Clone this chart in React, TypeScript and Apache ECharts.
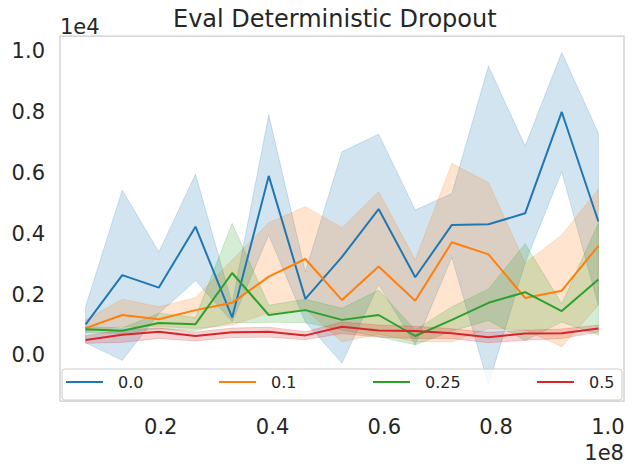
import React, { useEffect, useRef } from "react";
import * as echarts from "echarts";

const steps = [
  6553600, 13107200, 19660800, 26214400, 32768000, 39321600, 45875200, 52428800,
  58982400, 65536000, 72089600, 78643200, 85196800, 91750400, 98304000,
];

const seriesNames = ["0.0", "0.1", "0.25", "0.5"];

const mean00 = [1020, 2640, 2230, 4230, 1250, 5900, 1860, 3240, 4810, 2570, 4290, 4310, 4670, 8000, 4400];
const upper00 = [1600, 5430, 3400, 5950, 1700, 7900, 2750, 6690, 7270, 4780, 5320, 9500, 6880, 9950, 7300];
const lower00 = [420, -160, 1380, 2460, 1110, 3960, 1100, -250, 2330, 350, 3230, -950, 3050, 6040, 1650];

const mean01 = [900, 1330, 1190, 1490, 1730, 2590, 3170, 1820, 2920, 1800, 3720, 3320, 1890, 2130, 3600];
const upper01 = [1170, 1850, 1600, 1900, 3140, 4360, 4890, 4200, 5380, 3140, 6310, 5680, 3030, 3960, 5460];
const lower01 = [780, 950, 950, 890, 1000, 1400, 1500, 450, 700, 450, 450, 890, 840, 290, 1650];

const mean025 = [860, 815, 1070, 1030, 2710, 1330, 1490, 1170, 1330, 640, 1170, 1730, 2080, 1460, 2500];
const upper025 = [950, 900, 1390, 1250, 4340, 1650, 1850, 1550, 2150, 840, 1600, 2180, 3670, 1700, 4340];
const lower025 = [760, 720, 880, 820, 1080, 1090, 1080, 840, 620, 350, 800, 1150, 490, 1100, 670];

const mean05 = [510, 680, 780, 640, 760, 780, 660, 946, 820, 805, 730, 600, 720, 730, 890];
const upper05 = [650, 840, 900, 770, 900, 930, 780, 1100, 1000, 960, 880, 760, 830, 870, 1000];
const lower05 = [400, 430, 560, 480, 590, 600, 520, 720, 600, 560, 560, 420, 500, 560, 770];

const yTicks = [0, 2000, 4000, 6000, 8000, 10000];
const xTicks = [20000000, 40000000, 60000000, 80000000, 100000000];

const lineColors = ["#1f77b4", "#ff7f0e", "#2ca02c", "#d62728"];
const bandColors = [
  "rgba(31,119,180,0.2)",
  "rgba(255,127,14,0.2)",
  "rgba(44,160,44,0.2)",
  "rgba(214,39,40,0.2)",
];
const legendLefts = [66, 219, 373, 537];

const means = [mean00, mean01, mean025, mean05];
const uppers = [upper00, upper01, upper025, upper05];
const lowers = [lower00, lower01, lower025, lower05];

const FONT = "DejaVu Sans";
const TEXT = "#262626";

export default function App() {
  const ref = useRef<HTMLDivElement>(null);

  useEffect(() => {
    if (!ref.current) return;
    const chart = echarts.init(ref.current, null, { renderer: "svg" });

    const bandSeries = seriesNames.map((name, k) => ({
      type: "custom",
      name: "band " + name,
      z: 1,
      silent: true,
      data: [[steps[0], lowers[k][0]]],
      renderItem: (_params: any, api: any) => {
        const pts: number[][] = [];
        for (let i = 0; i < steps.length; i++) pts.push(api.coord([steps[i], uppers[k][i]]));
        for (let i = steps.length - 1; i >= 0; i--) pts.push(api.coord([steps[i], lowers[k][i]]));
        return {
          type: "polygon",
          shape: { points: pts },
          style: { fill: bandColors[k], stroke: bandColors[k], lineWidth: 1 },
        };
      },
    }));

    const lineSeries = seriesNames.map((name, k) => ({
      type: "line",
      name,
      z: 3,
      data: steps.map((x, i) => [x, means[k][i]]),
      showSymbol: false,
      symbol: "none",
      color: lineColors[k],
      lineStyle: { width: 2, color: lineColors[k] },
    }));

    const legends = seriesNames.map((name, k) => ({
      data: [name],
      left: legendLefts[k],
      top: 374,
      padding: 0,
      itemGap: 0,
      icon: "rect",
      itemWidth: 37,
      itemHeight: 2,
      z: 10,
      selectedMode: false,
      textStyle: { fontSize: 16, color: TEXT, fontFamily: FONT, padding: [0, 0, 0, 10] },
    }));

    chart.setOption({
      animation: false,
      title: {
        text: "Eval Deterministic Dropout",
        left: 173,
        top: 7,
        padding: 0,
        textStyle: { fontSize: 24, fontWeight: "normal", color: TEXT, fontFamily: FONT },
      },
      grid: {
        left: 60,
        right: 11,
        top: 36,
        bottom: 73,
        show: true,
        borderColor: "#cccccc",
        borderWidth: 1.25,
        backgroundColor: "transparent",
      },
      legend: legends,
      xAxis: {
        type: "value",
        min: 1966080,
        max: 102891520,
        axisLine: { show: false },
        axisTick: { show: false },
        splitLine: { show: false },
        axisLabel: {
          customValues: xTicks,
          fontSize: 21,
          color: TEXT,
          fontFamily: FONT,
          margin: 15,
          formatter: (v: number) => (v / 1e8).toFixed(1),
        },
      },
      yAxis: {
        type: "value",
        min: -1495,
        max: 10495,
        axisLine: { show: false },
        axisTick: { show: false },
        splitLine: { show: false },
        axisLabel: {
          customValues: yTicks,
          fontSize: 21,
          color: TEXT,
          fontFamily: FONT,
          margin: 15,
          formatter: (v: number) => (v / 1e4).toFixed(1),
        },
      },
      graphic: {
        elements: [
          {
            type: "rect",
            z: 5,
            silent: true,
            shape: { x: 62, y: 369, width: 560, height: 31, r: 3 },
            style: { fill: "rgba(255,255,255,0.8)", stroke: "#cccccc", lineWidth: 1 },
          },
          {
            type: "text",
            z: 6,
            style: {
              text: "1e4",
              x: 60,
              y: 27,
              textAlign: "left",
              textVerticalAlign: "middle",
              font: '21px "DejaVu Sans"',
              fill: TEXT,
            },
          },
          {
            type: "text",
            z: 6,
            style: {
              text: "1e8",
              x: 624,
              y: 453,
              textAlign: "right",
              textVerticalAlign: "middle",
              font: '21px "DejaVu Sans"',
              fill: TEXT,
            },
          },
        ],
      },
      series: [...bandSeries, ...lineSeries],
    });

    return () => chart.dispose();
  }, []);

  return (
    <div
      ref={ref}
      style={{ position: "fixed", left: 0, top: 0, width: 635, height: 474, background: "#ffffff" }}
    />
  );
}
